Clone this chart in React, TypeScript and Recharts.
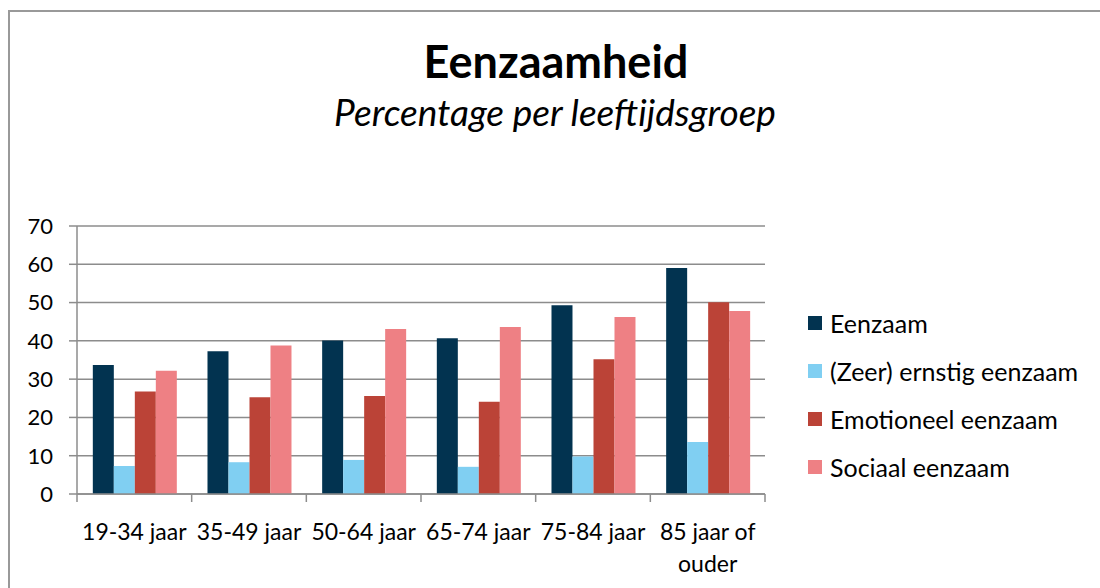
import { BarChart, Bar, XAxis, YAxis, CartesianGrid } from 'recharts';

const categories = ['19-34 jaar', '35-49 jaar', '50-64 jaar', '65-74 jaar', '75-84 jaar', '85 jaar of ouder'];
const eenzaam = [33.7, 37.3, 40.1, 40.7, 49.3, 59.0];
const zeerErnstig = [7.3, 8.3, 8.9, 7.1, 9.8, 13.6];
const emotioneel = [26.8, 25.3, 25.6, 24.1, 35.2, 50.1];
const sociaal = [32.2, 38.8, 43.1, 43.6, 46.2, 47.8];
const yTicks = [0, 10, 20, 30, 40, 50, 60, 70];

const SERIES = [
  { key: 'eenzaam', name: 'Eenzaam', color: '#023350' },
  { key: 'zeer', name: '(Zeer) ernstig eenzaam', color: '#80cff2' },
  { key: 'emotioneel', name: 'Emotioneel eenzaam', color: '#bb4337' },
  { key: 'sociaal', name: 'Sociaal eenzaam', color: '#ee8084' },
];

const data = categories.map((cat, i) => ({
  cat,
  eenzaam: eenzaam[i],
  zeer: zeerErnstig[i],
  emotioneel: emotioneel[i],
  sociaal: sociaal[i],
}));

const FONT = 'Lato, "Open Sans", sans-serif';
const AXIS = '#8c8c8c';
const BAND = (765 - 77) / categories.length;

// simple word wrap: lines of at most 11 characters
function wrap(label: string) {
  const lines: string[] = [];
  let cur = '';
  for (const w of label.split(' ')) {
    const next = cur ? cur + ' ' + w : w;
    if (next.length > 11 && cur) {
      lines.push(cur);
      cur = w;
    } else {
      cur = next;
    }
  }
  if (cur) lines.push(cur);
  return lines;
}

function CatTick(props: any) {
  const { x, y, payload, index } = props;
  const last = index === categories.length - 1;
  return (
    <g>
      <line x1={x - BAND / 2} x2={x - BAND / 2} y1={y - 8} y2={y} stroke={AXIS} strokeWidth={1.5} />
      {last && <line x1={x + BAND / 2} x2={x + BAND / 2} y1={y - 8} y2={y} stroke={AXIS} strokeWidth={1.5} />}
      <text x={x} y={y + 38} textAnchor="middle" fill="#000" style={{ fontFamily: FONT, fontSize: 23 }}>
        {wrap(payload.value).map((line, i) => (
          <tspan key={i} x={x} dy={i === 0 ? 0 : 32}>
            {line}
          </tspan>
        ))}
      </text>
    </g>
  );
}

export default function App() {
  return (
    <div style={{ position: 'absolute', left: 0, top: 0, width: 1100, height: 588, overflow: 'hidden', background: '#fff' }}>
      <div
        style={{
          position: 'absolute',
          left: 8,
          top: 10,
          width: 1200,
          height: 700,
          borderLeft: '2px solid #999',
          borderTop: '2px solid #999',
        }}
      />
      <div
        style={{
          position: 'absolute',
          left: 0,
          width: 1112,
          top: 34,
          textAlign: 'center',
          fontFamily: FONT,
          fontWeight: 700,
          fontSize: 45,
          lineHeight: '54px',
          color: '#000',
        }}
      >
        Eenzaamheid
      </div>
      <div
        style={{
          position: 'absolute',
          left: 0,
          width: 1110,
          top: 90,
          textAlign: 'center',
          fontFamily: FONT,
          fontStyle: 'italic',
          fontSize: 37,
          lineHeight: '44px',
          color: '#000',
        }}
      >
        Percentage per leeftijdsgroep
      </div>
      <div style={{ position: 'absolute', left: 0, top: 0 }}>
        <BarChart
          width={1100}
          height={588}
          data={data}
          margin={{ top: 226, right: 335, bottom: 34, left: 17 }}
          barCategoryGap="13.8%"
          barGap={0}
        >
          <CartesianGrid vertical={false} stroke={AXIS} strokeWidth={1.5} />
          <XAxis
            dataKey="cat"
            height={60}
            interval={0}
            axisLine={{ stroke: AXIS, strokeWidth: 1.5 }}
            tickLine={false}
            tick={<CatTick />}
          />
          <YAxis
            width={60}
            domain={[0, 70]}
            ticks={yTicks}
            interval={0}
            axisLine={{ stroke: AXIS, strokeWidth: 1.5 }}
            tickLine={{ stroke: AXIS, strokeWidth: 1.5 }}
            tickSize={8}
            tick={{ fill: '#000', fontSize: 22, fontFamily: FONT, dx: -14 }}
          />
          {SERIES.map((s) => (
            <Bar key={s.key} dataKey={s.key} name={s.name} fill={s.color} isAnimationActive={false} />
          ))}
        </BarChart>
      </div>
      <div style={{ position: 'absolute', left: 808, top: 299, fontFamily: FONT, fontSize: 25, color: '#000' }}>
        {SERIES.map((s) => (
          <div key={s.key} style={{ display: 'flex', alignItems: 'center', height: 48 }}>
            <span style={{ width: 14, height: 14, background: s.color, marginRight: 8, display: 'inline-block' }} />
            <span>{s.name}</span>
          </div>
        ))}
      </div>
    </div>
  );
}
